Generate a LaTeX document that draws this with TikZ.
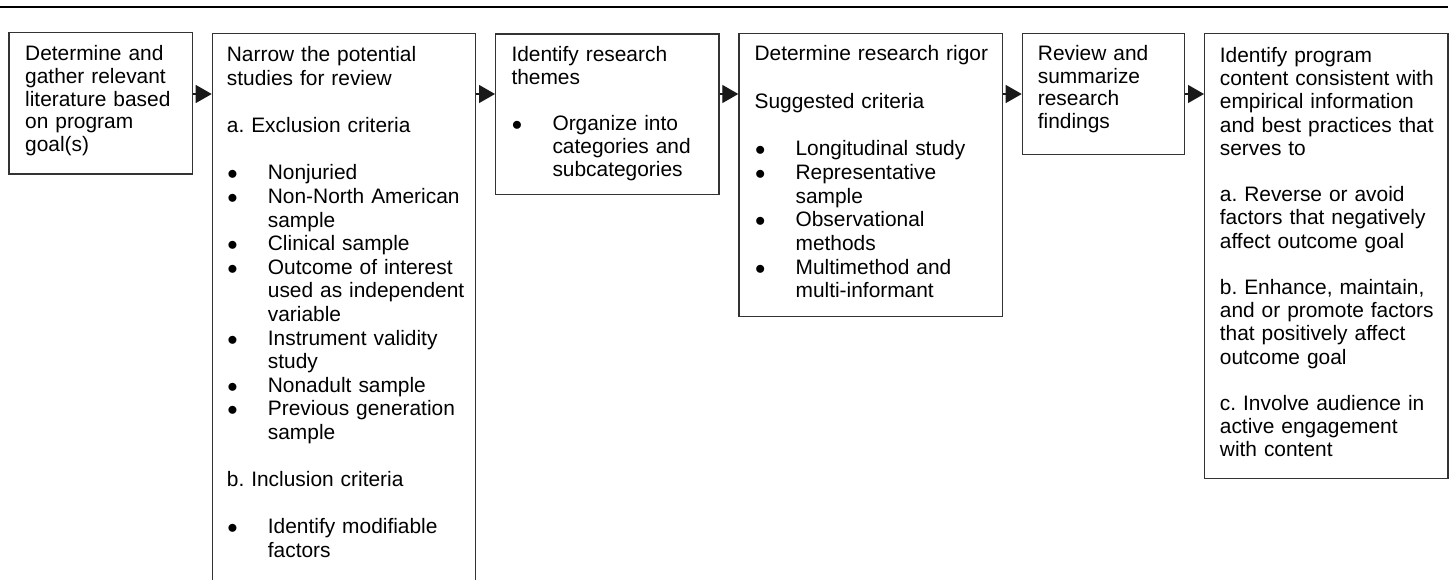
\documentclass[tikz,border=0pt]{standalone}
\usepackage{fontspec}
\setmainfont{Liberation Sans}
\usetikzlibrary{arrows.meta}
\frenchspacing
\newcommand{\bulx}{\makebox[41pt][l]{\hspace{0.4pt}$\bullet$}}
\newcommand{\indx}{\hspace*{41pt}}
\newcommand{\blankx}{\mbox{}}
\newcommand{\firstx}{\rule{0pt}{20pt}}
\begin{document}
\begin{tikzpicture}[x=1pt,y=-1pt,
  boxx/.style={draw=black!80, line width=1.3pt, anchor=north west, inner sep=0pt},
  txt/.style={anchor=north west, inner sep=0pt, align=left, text width=#1},
  arr/.style={line width=1.3pt, draw=black!90, -{Triangle[length=16pt,width=18pt]}}]
\useasboundingbox (0,0) rectangle (1452,579);
\clip (0,0) rectangle (1452,579);
\draw[line width=2pt] (0,7.3) -- (1448,7.3);
% boxes
\node[boxx, minimum width=183.4pt, minimum height=141.6pt] (b1) at (8.3,31.7) {};
\node[boxx, minimum width=263.3pt, minimum height=570pt] (b2) at (211.7,33) {};
\node[boxx, minimum width=223.3pt, minimum height=160.7pt] (b3) at (495,33.3) {};
\node[boxx, minimum width=263.4pt, minimum height=283.3pt] (b4) at (738.3,32.7) {};
\node[boxx, minimum width=162.3pt, minimum height=121pt] (b5) at (1021.7,33) {};
\node[boxx, minimum width=243.3pt, minimum height=444.7pt] (b6) at (1204,33) {};
% texts
\node[txt=165pt, font={\fontsize{20.9pt}{22.9pt}\selectfont}] (t1) at (25,40)
 {\firstx Determine and\\ gather relevant\\ literature based\\ on program\\ goal(s)};
\node[txt=250pt, font={\fontsize{20.9pt}{23.6pt}\selectfont}] (t2) at (226.7,41.7)
 {\firstx Narrow the potential\\ studies for review\\ \blankx\\ a. Exclusion criteria\\ \blankx\\
  \bulx Nonjuried\\ \bulx Non-North American\\ \indx sample\\ \bulx Clinical sample\\
  \bulx Outcome of interest\\ \indx used as independent\\ \indx variable\\
  \bulx Instrument validity\\ \indx study\\ \bulx Nonadult sample\\
  \bulx Previous generation\\ \indx sample\\ \blankx\\ b. Inclusion criteria\\ \blankx\\
  \bulx Identify modifiable\\ \indx factors};
\node[txt=205pt, font={\fontsize{20.9pt}{23pt}\selectfont}] (t3) at (511.3,41.7)
 {\firstx Identify research\\ themes\\ \blankx\\ \bulx Organize into\\ \indx categories and\\ \indx subcategories};
\node[txt=245pt, font={\fontsize{20.9pt}{23.7pt}\selectfont}] (t4) at (754.4,40.7)
 {\firstx Determine research rigor\\ \blankx\\ Suggested criteria\\ \blankx\\
  \bulx Longitudinal study\\ \bulx Representative\\ \indx sample\\ \bulx Observational\\ \indx methods\\
  \bulx Multimethod and\\ \indx multi-informant};
\node[txt=145pt, font={\fontsize{20.9pt}{22.8pt}\selectfont}] (t5) at (1037.7,40)
 {\firstx Review and\\ summarize\\ research\\ findings};
\node[txt=228pt, font={\fontsize{20.9pt}{23.2pt}\selectfont}] (t6) at (1219.7,42.3)
 {\firstx Identify program\\ content consistent with\\ empirical information\\ and best practices that\\ serves to\\ \blankx\\
  a. Reverse or avoid\\ factors that negatively\\ affect outcome goal\\ \blankx\\
  b. Enhance, maintain,\\ and or promote factors\\ that positively affect\\ outcome goal\\ \blankx\\
  c. Involve audience in\\ active engagement\\ with content};
% connectors
\coordinate (ay) at (0,94);
\draw[arr] (b1.east |- ay) -- (b2.west |- ay);
\draw[arr] (b2.east |- ay) -- (b3.west |- ay);
\draw[arr] (b3.east |- ay) -- (b4.west |- ay);
\draw[arr] (b4.east |- ay) -- (b5.west |- ay);
\draw[arr] (b5.east |- ay) -- (b6.west |- ay);
\end{tikzpicture}
\end{document}
